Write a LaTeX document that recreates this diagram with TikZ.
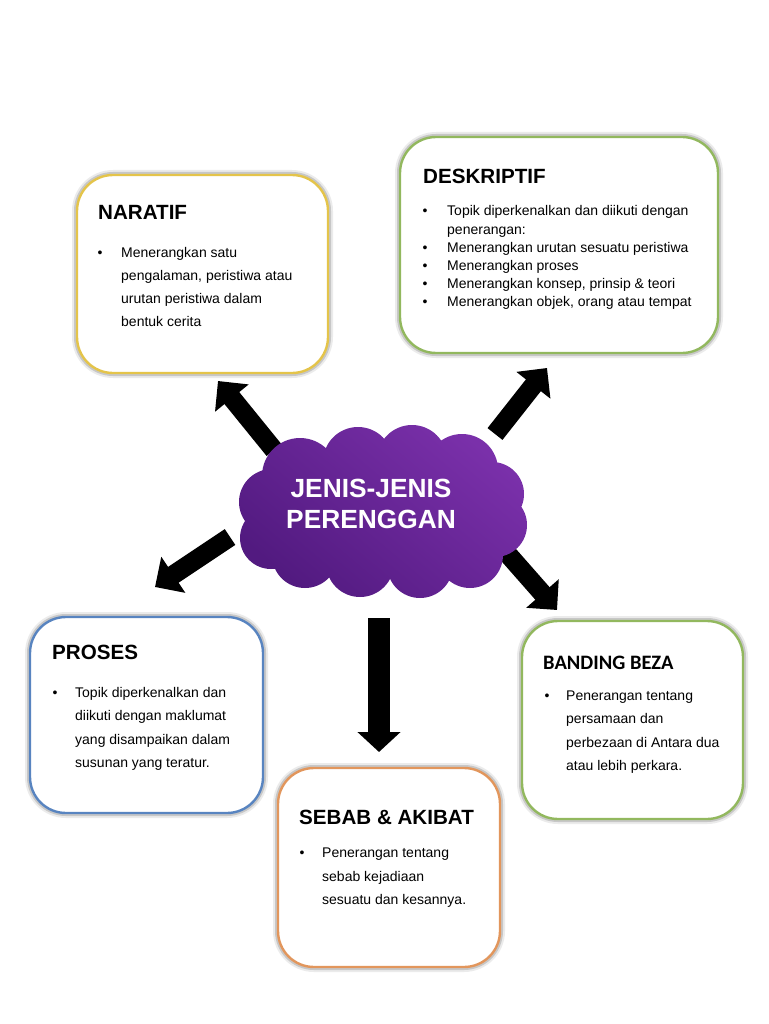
\documentclass[tikz,border=0pt]{standalone}
\usepackage{fontspec}
\setmainfont{Liberation Sans}
\newfontfamily\calfont{Carlito}
\usetikzlibrary{arrows.meta}
\definecolor{goldb}{RGB}{228,196,74}
\definecolor{greenb}{RGB}{146,184,94}
\definecolor{blueb}{RGB}{88,132,192}
\definecolor{orangeb}{RGB}{226,150,92}
\definecolor{purplelight}{RGB}{122,48,170}
\definecolor{purpledark}{RGB}{82,26,128}
\begin{document}
\begin{tikzpicture}[x=1pt,y=-1pt,
  card/.style={rectangle, rounded corners=36pt, draw=#1, line width=2.4pt, fill=white,
    preaction={draw=black!8, line width=10pt},
    preaction={draw=black!22, line width=6pt}},
  ttl/.style={anchor=base west, inner sep=0pt, font=\fontsize{20.6}{24}\selectfont\bfseries},
  body/.style={anchor=base west, inner sep=0pt, font=\fontsize{14}{18}\selectfont},
  bul/.style={anchor=base, inner sep=0pt, font=\fontsize{14}{18}\selectfont},
  blockarrow/.style={line width=19pt, -{Triangle[width=42pt,length=22pt]}},
  cloudfill/.style={top color=purplelight, bottom color=purpledark, shading angle=-40},
  cloudtxt/.style={anchor=base, inner sep=0pt, text=white, font=\fontsize{26.3}{30}\selectfont\bfseries}]
\useasboundingbox (0,0) rectangle (768,1024);

% boxes
\node[card=goldb, minimum width=251pt, minimum height=198pt] (naratif) at (202.5,274) {};
\node[card=greenb, minimum width=318pt, minimum height=216pt] (deskriptif) at (559,245) {};
\node[card=blueb, minimum width=233pt, minimum height=196pt] (proses) at (146.5,715) {};
\node[card=greenb, minimum width=221pt, minimum height=198pt] (banding) at (632.5,720) {};
\node[card=orangeb, minimum width=222pt, minimum height=199pt] (sebab) at (389,867.5) {};

% NARATIF
\node[ttl] (t1) at (98,219) {NARATIF};
\node[bul] (b1) at (100,257) {\textbullet};
\node[body] (l11) at (121,257) {Menerangkan satu};
\node[body] (l12) at (121,280) {pengalaman, peristiwa atau};
\node[body] (l13) at (121,303) {urutan peristiwa dalam};
\node[body] (l14) at (121,326) {bentuk cerita};

% DESKRIPTIF
\node[ttl] (t2) at (423,184) {DESKRIPTIF};
\node[bul] (b21) at (425,216) {\textbullet};
\node[body] (l21) at (447,216) {Topik diperkenalkan dan diikuti dengan};
\node[body] (l22) at (447,234) {penerangan:};
\node[bul] (b22) at (425,252) {\textbullet};
\node[body] (l23) at (447,252) {Menerangkan urutan sesuatu peristiwa};
\node[bul] (b23) at (425,270) {\textbullet};
\node[body] (l24) at (447,270) {Menerangkan proses};
\node[bul] (b24) at (425,288) {\textbullet};
\node[body] (l25) at (447,288) {Menerangkan konsep, prinsip \& teori};
\node[bul] (b25) at (425,306) {\textbullet};
\node[body] (l26) at (447,306) {Menerangkan objek, orang atau tempat};

% PROSES
\node[ttl] (t3) at (52,659) {PROSES};
\node[bul] (b3) at (55,697) {\textbullet};
\node[body] (l31) at (75,697) {Topik diperkenalkan dan};
\node[body] (l32) at (75,720) {diikuti dengan maklumat};
\node[body] (l33) at (75,744) {yang disampaikan dalam};
\node[body] (l34) at (75,767) {susunan yang teratur.};

% BANDING BEZA
\node[ttl, font=\fontsize{20.5}{24}\calfont\bfseries] (t4) at (543,669) {BANDING BEZA};
\node[bul] (b4) at (547,700) {\textbullet};
\node[body] (l41) at (566,700) {Penerangan tentang};
\node[body] (l42) at (566,723) {persamaan dan};
\node[body] (l43) at (566,747) {perbezaan di Antara dua};
\node[body] (l44) at (566,770) {atau lebih perkara.};

% SEBAB & AKIBAT
\node[ttl] (t5) at (299,824) {SEBAB \& AKIBAT};
\node[bul] (b5) at (302,857) {\textbullet};
\node[body] (l51) at (322,857) {Penerangan tentang};
\node[body] (l52) at (322,881) {sebab kejadiaan};
\node[body] (l53) at (322,904) {sesuatu dan kesannya.};

% arrows
\coordinate (a1s) at (274,450); \coordinate (a1e) at (218,381);
\coordinate (a2s) at (495,434); \coordinate (a2e) at (547,368);
\coordinate (a3s) at (230,537); \coordinate (a3e) at (155,587);
\coordinate (a4s) at (506,552); \coordinate (a4e) at (557,610);
\coordinate (a5s) at (379,618); \coordinate (a5e) at (379,752);
\draw[blockarrow] (a1s) -- (a1e);
\draw[blockarrow] (a2s) -- (a2e);
\draw[blockarrow] (a3s) -- (a3e);
\draw[blockarrow] (a4s) -- (a4e);
\draw[line width=22pt, -{Triangle[width=42pt,length=20pt]}] (a5s) -- (a5e);

% cloud (union of puffs)
\shade[cloudfill]
  (382,512) ellipse [x radius=122, y radius=62]
  (300,476) circle [radius=38]
  (358,462) circle [radius=35]
  (412,460) circle [radius=35]
  (462,470) circle [radius=36]
  (492,494) circle [radius=32]
  (495,525) circle [radius=32]
  (470,555) circle [radius=33]
  (420,565) circle [radius=33]
  (360,563) circle [radius=34]
  (305,555) circle [radius=33]
  (271,538) circle [radius=31]
  (272,502) circle [radius=33];
\node[cloudtxt] (ct1) at (371,497) {JENIS-JENIS};
\node[cloudtxt] (ct2) at (371,528) {PERENGGAN};
\end{tikzpicture}
\end{document}
